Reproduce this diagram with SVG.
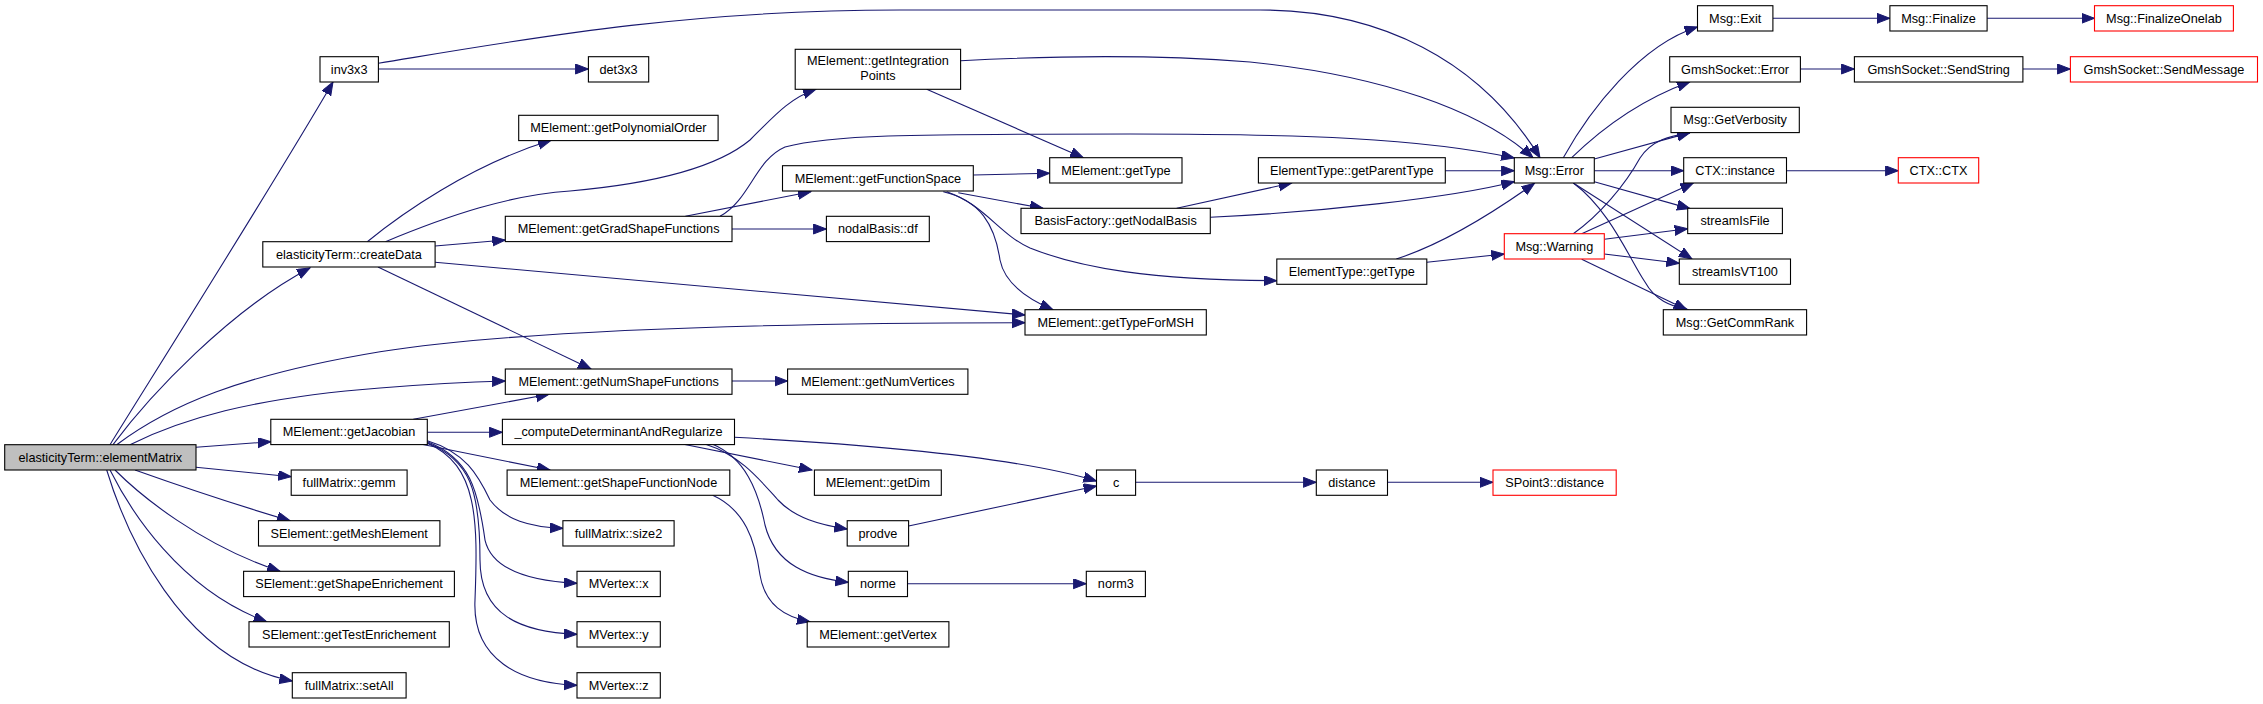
<svg xmlns="http://www.w3.org/2000/svg" width="2263" height="704" viewBox="0 0 2263 704">
<style>
.n rect{fill:#fff;stroke:#000;stroke-width:1.1}
.n.root rect{fill:#bfbfbf}
.n.red rect{stroke:#ff0000}
.n text{font-family:"Liberation Sans",Arial,sans-serif;font-size:12.7px;fill:#000;text-anchor:middle}
#edges path{fill:none;stroke:#191970;stroke-width:1.1;marker-end:url(#ah)}
</style>
<defs>
<marker id="ah" markerUnits="userSpaceOnUse" markerWidth="14" markerHeight="11" refX="13" refY="5" orient="auto">
<path d="M0,0 L13,5 L0,10 Z" fill="#191970" stroke="#191970" stroke-width="1"/>
</marker>
</defs>
<rect width="2263" height="704" fill="#fff"/>
<g id="edges">
<path d="M110,444.7 C150,380 270,190 333,82"/>
<path d="M113,444.7 C150,395 230,310 310,268"/>
<path d="M116.7,444.7 C170,405 240,375 380,351.7 C500,333 700,323 1025,322.7"/>
<path d="M130,444.7 C180,420 250,398 380,388 C430,384 470,382 505.3,381"/>
<path d="M196,447.3 L270.8,441.7"/>
<path d="M196,467.3 L291.2,476.7"/>
<path d="M135,470 C180,486 240,506 290,520.7"/>
<path d="M115,470 C140,495 200,545 280,571.3"/>
<path d="M110,470 C130,510 180,590 266.7,621.7"/>
<path d="M106.7,470 C125,530 180,660 292.3,681"/>
<path d="M378.4,63.3 C520,40 680,10 900,10 L1260,10 C1380,10 1480,60 1540,157.7"/>
<path d="M378.4,69 L588.4,69"/>
<path d="M960.7,60.7 C1050,56 1150,54 1250,62 C1380,75 1480,110 1533,157.7"/>
<path d="M926.7,89.3 L1083.3,157.7"/>
<path d="M367.3,241.7 C400,215 470,165 551,140.3"/>
<path d="M385.5,241.7 C450,215 510,195 570,191 C660,183 720,165 750,140 C775,115 790,98 816,89.3"/>
<path d="M435.1,246 L505.3,240"/>
<path d="M435.1,262.3 L1025,315"/>
<path d="M378,267 L591,369"/>
<path d="M685.4,216.3 L810.8,191.7"/>
<path d="M720,216.3 C750,200 755,160 785,147 C830,135 900,134 1130,134 C1300,134 1420,138 1514.3,158"/>
<path d="M732,229 L826.4,229"/>
<path d="M973.3,175 L1049.7,173.3"/>
<path d="M958.3,192.7 L1043,208.3"/>
<path d="M943.3,191.7 C980,200 995,225 1000,260 C1005,285 1030,300 1053,309.7"/>
<path d="M946.7,191.7 C985,205 1000,235 1030,248 C1080,268 1150,280 1276.8,280.7"/>
<path d="M1176.7,208.3 L1291.7,183"/>
<path d="M1210.3,217.3 C1320,212 1450,198 1514.3,181.7"/>
<path d="M1445.3,170.7 L1514.3,170.7"/>
<path d="M1396.3,259 C1440,245 1490,215 1534.5,183.3"/>
<path d="M1426.8,262.3 L1504.3,254"/>
<path d="M1563.3,157.7 C1590,110 1640,45 1697.5,27"/>
<path d="M1571.7,157.7 C1600,130 1640,100 1690,81.7"/>
<path d="M1594.3,159 L1690,132.6"/>
<path d="M1594.3,170.7 L1683.7,170.7"/>
<path d="M1594.3,181.7 L1690,208.6"/>
<path d="M1573.3,183 L1692,259"/>
<path d="M1573.3,183 C1610,210 1630,260 1645,282 C1655,300 1670,306 1688,309.7"/>
<path d="M1573.3,233.7 C1600,215 1625,185 1640,158 C1652,140 1670,136 1690,132.6"/>
<path d="M1581.7,233.7 L1693.3,183"/>
<path d="M1604.3,239.3 L1687.7,228.7"/>
<path d="M1604.3,254 L1679.3,263.3"/>
<path d="M1581.7,259.3 L1686.7,309.7"/>
<path d="M1772.9,18.3 L1889.9,18.3"/>
<path d="M1987.1,18.3 L2094.5,18.3"/>
<path d="M1800.4,69 L1854.4,69"/>
<path d="M2022.9,69 L2070.4,69"/>
<path d="M1786.5,170.7 L1898.3,170.7"/>
<path d="M427.3,432.3 L502.4,432.3"/>
<path d="M413.3,419.3 L549,394.3"/>
<path d="M421.7,444.3 L550,470"/>
<path d="M427.3,440.7 C465,452 478,475 490,500 C505,520 530,527 562.9,528.3"/>
<path d="M427.3,441.7 C470,458 478,490 485,540 C492,570 530,581 577,583.3"/>
<path d="M427.3,442.7 C470,460 480,490 480,560 C480,615 520,632 577,634.3"/>
<path d="M427.3,443.3 C478,465 478,520 475,600 C472,660 520,683 577,685.3"/>
<path d="M734.5,437.3 C880,445 1020,458 1096.5,481"/>
<path d="M683.6,444.3 L812,470"/>
<path d="M705.5,444.3 C740,455 760,480 778,500 C795,518 820,525 847.2,529"/>
<path d="M712.7,444.3 C745,458 758,490 765,525 C775,565 810,578 848.3,582.3"/>
<path d="M712.7,495.3 C745,510 755,540 760,575 C765,605 785,617 810,621.7"/>
<path d="M908.6,526 L1096.5,486"/>
<path d="M907.5,583.7 L1086.3,583.7"/>
<path d="M1135.6,482.3 L1316.3,482.3"/>
<path d="M1387.5,482.3 L1493,482.3"/>
<path d="M732,381 L787.6,381"/>
</g>
<g id="n_elementMatrix" class="n root"><rect x="4.7" y="444.7" width="191.3" height="25.3"/><text x="100.35" y="461.8">elasticityTerm::elementMatrix</text></g>
<g id="n_inv3x3" class="n"><rect x="320" y="56.7" width="58.4" height="25.3"/><text x="349.2" y="73.8">inv3x3</text></g>
<g id="n_createData" class="n"><rect x="262.8" y="241.7" width="172.3" height="25.3"/><text x="348.95" y="258.8">elasticityTerm::createData</text></g>
<g id="n_getJacobian" class="n"><rect x="270.8" y="419.3" width="156.5" height="25.3"/><text x="349.05" y="436.4">MElement::getJacobian</text></g>
<g id="n_gemm" class="n"><rect x="291.2" y="470" width="115.9" height="25.3"/><text x="349.15" y="487.1">fullMatrix::gemm</text></g>
<g id="n_getMeshElement" class="n"><rect x="258.5" y="520.7" width="181.4" height="25.3"/><text x="349.2" y="537.8">SElement::getMeshElement</text></g>
<g id="n_getShapeEnrichement" class="n"><rect x="243.6" y="571.3" width="210.8" height="25.3"/><text x="349" y="588.4">SElement::getShapeEnrichement</text></g>
<g id="n_getTestEnrichement" class="n"><rect x="249" y="621.7" width="200.3" height="25.3"/><text x="349.15" y="638.8">SElement::getTestEnrichement</text></g>
<g id="n_setAll" class="n"><rect x="292.3" y="672.7" width="113.8" height="25.3"/><text x="349.2" y="689.8">fullMatrix::setAll</text></g>
<g id="n_det3x3" class="n"><rect x="588.4" y="56.7" width="60.3" height="25.3"/><text x="618.55" y="73.8">det3x3</text></g>
<g id="n_getPolynomialOrder" class="n"><rect x="518.7" y="115.3" width="199.4" height="25.3"/><text x="618.4" y="132.4">MElement::getPolynomialOrder</text></g>
<g id="n_getGradShapeFunctions" class="n"><rect x="505.3" y="216.3" width="226.7" height="25.3"/><text x="618.65" y="233.4">MElement::getGradShapeFunctions</text></g>
<g id="n_getNumShapeFunctions" class="n"><rect x="505.3" y="369" width="226.7" height="25.3"/><text x="618.65" y="386.1">MElement::getNumShapeFunctions</text></g>
<g id="n_computeDet" class="n"><rect x="502.4" y="419.3" width="232.1" height="25.3"/><text x="618.45" y="436.4">_computeDeterminantAndRegularize</text></g>
<g id="n_getShapeFunctionNode" class="n"><rect x="507.1" y="470" width="222.7" height="25.3"/><text x="618.45" y="487.1">MElement::getShapeFunctionNode</text></g>
<g id="n_size2" class="n"><rect x="562.9" y="520.7" width="111.2" height="25.3"/><text x="618.5" y="537.8">fullMatrix::size2</text></g>
<g id="n_MVertex_x" class="n"><rect x="577" y="571.3" width="83.3" height="25.3"/><text x="618.65" y="588.4">MVertex::x</text></g>
<g id="n_MVertex_y" class="n"><rect x="577" y="621.7" width="83.3" height="25.3"/><text x="618.65" y="638.8">MVertex::y</text></g>
<g id="n_MVertex_z" class="n"><rect x="577" y="672.7" width="83.3" height="25.3"/><text x="618.65" y="689.8">MVertex::z</text></g>
<g id="n_getIntegrationPoints" class="n"><rect x="795.2" y="49.3" width="165.4" height="40"/><text x="877.9" y="65">MElement::getIntegration</text><text x="877.9" y="80">Points</text></g>
<g id="n_getFunctionSpace" class="n"><rect x="782.5" y="165.7" width="190.8" height="25.3"/><text x="877.9" y="182.8">MElement::getFunctionSpace</text></g>
<g id="n_df" class="n"><rect x="826.4" y="216.3" width="102.9" height="25.3"/><text x="877.85" y="233.4">nodalBasis::df</text></g>
<g id="n_getNumVertices" class="n"><rect x="787.6" y="369" width="180.3" height="25.3"/><text x="877.75" y="386.1">MElement::getNumVertices</text></g>
<g id="n_getDim" class="n"><rect x="814.4" y="470" width="126.9" height="25.3"/><text x="877.85" y="487.1">MElement::getDim</text></g>
<g id="n_prodve" class="n"><rect x="847.2" y="520.7" width="61.4" height="25.3"/><text x="877.9" y="537.8">prodve</text></g>
<g id="n_norme" class="n"><rect x="848.3" y="571.3" width="59.2" height="25.3"/><text x="877.9" y="588.4">norme</text></g>
<g id="n_getVertex" class="n"><rect x="807.2" y="621.7" width="141.7" height="25.3"/><text x="878.05" y="638.8">MElement::getVertex</text></g>
<g id="n_MElement_getType" class="n"><rect x="1049.7" y="157.7" width="132.3" height="25.3"/><text x="1115.85" y="174.8">MElement::getType</text></g>
<g id="n_getNodalBasis" class="n"><rect x="1021" y="208.3" width="189.3" height="25.3"/><text x="1115.65" y="225.4">BasisFactory::getNodalBasis</text></g>
<g id="n_getTypeForMSH" class="n"><rect x="1025" y="309.7" width="181.3" height="25.3"/><text x="1115.65" y="326.8">MElement::getTypeForMSH</text></g>
<g id="n_c" class="n"><rect x="1096.5" y="470" width="39.1" height="25.3"/><text x="1116.05" y="487.1">c</text></g>
<g id="n_norm3" class="n"><rect x="1086.3" y="571.3" width="59.1" height="25.3"/><text x="1115.85" y="588.4">norm3</text></g>
<g id="n_getParentType" class="n"><rect x="1258.4" y="157.7" width="186.9" height="25.3"/><text x="1351.85" y="174.8">ElementType::getParentType</text></g>
<g id="n_ElementType_getType" class="n"><rect x="1276.8" y="259" width="150" height="25.3"/><text x="1351.8" y="276.1">ElementType::getType</text></g>
<g id="n_distance" class="n"><rect x="1316.3" y="470" width="71.2" height="25.3"/><text x="1351.9" y="487.1">distance</text></g>
<g id="n_Msg_Error" class="n"><rect x="1514.3" y="157.7" width="80" height="25.3"/><text x="1554.3" y="174.8">Msg::Error</text></g>
<g id="n_Msg_Warning" class="n red"><rect x="1504.3" y="233.7" width="100" height="25.3"/><text x="1554.3" y="250.8">Msg::Warning</text></g>
<g id="n_SPoint3_distance" class="n red"><rect x="1493" y="470" width="123.2" height="25.3"/><text x="1554.6" y="487.1">SPoint3::distance</text></g>
<g id="n_Msg_Exit" class="n"><rect x="1697.5" y="5.7" width="75.4" height="25.3"/><text x="1735.2" y="22.8">Msg::Exit</text></g>
<g id="n_GmshSocket_Error" class="n"><rect x="1669.7" y="56.7" width="130.7" height="25.3"/><text x="1735.05" y="73.8">GmshSocket::Error</text></g>
<g id="n_GetVerbosity" class="n"><rect x="1671" y="107.3" width="128.3" height="25.3"/><text x="1735.15" y="124.4">Msg::GetVerbosity</text></g>
<g id="n_CTX_instance" class="n"><rect x="1683.7" y="157.7" width="102.8" height="25.3"/><text x="1735.1" y="174.8">CTX::instance</text></g>
<g id="n_streamIsFile" class="n"><rect x="1687.7" y="208.3" width="94.7" height="25.3"/><text x="1735.05" y="225.4">streamIsFile</text></g>
<g id="n_streamIsVT100" class="n"><rect x="1679.3" y="259" width="111.2" height="25.3"/><text x="1734.9" y="276.1">streamIsVT100</text></g>
<g id="n_GetCommRank" class="n"><rect x="1663.3" y="309.7" width="143.3" height="25.3"/><text x="1734.95" y="326.8">Msg::GetCommRank</text></g>
<g id="n_Finalize" class="n"><rect x="1889.9" y="5.7" width="97.2" height="25.3"/><text x="1938.5" y="22.8">Msg::Finalize</text></g>
<g id="n_FinalizeOnelab" class="n red"><rect x="2094.5" y="5.7" width="138.9" height="25.3"/><text x="2163.95" y="22.8">Msg::FinalizeOnelab</text></g>
<g id="n_SendString" class="n"><rect x="1854.4" y="56.7" width="168.5" height="25.3"/><text x="1938.65" y="73.8">GmshSocket::SendString</text></g>
<g id="n_SendMessage" class="n red"><rect x="2070.4" y="56.7" width="187.1" height="25.3"/><text x="2163.95" y="73.8">GmshSocket::SendMessage</text></g>
<g id="n_CTX_CTX" class="n red"><rect x="1898.3" y="157.7" width="80.4" height="25.3"/><text x="1938.5" y="174.8">CTX::CTX</text></g>
</svg>
